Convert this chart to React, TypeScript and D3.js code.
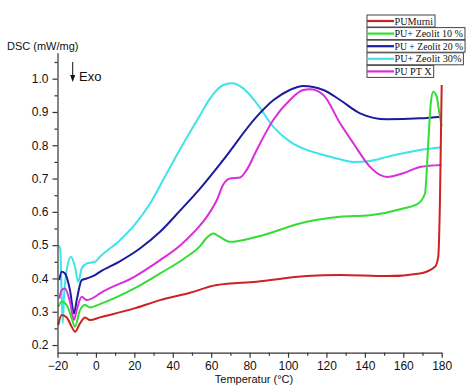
import { useEffect, useRef } from "react"
import * as d3 from "d3"

// Temperatur (°C) / DSC (mW/mg) Werte
const seriesNames = ["PUMurni", "PU+ Zeolit 10 %", "PU + Zeolit 20 %", "PU+ Zeolit 30%", "PU PT X"]
const seriesColors = ["#cc2222", "#33dd33", "#1c1ca0", "#3fe3ea", "#d92ed9"]

const puMurni: [number, number][] = [
  [-19.6, 0.26], [-17.8, 0.29], [-15.2, 0.283], [-12.6, 0.255], [-10.9, 0.24], [-8.3, 0.265],
  [-5.7, 0.283], [-3.1, 0.275], [2.1, 0.283], [20, 0.31], [33.4, 0.335], [49.0, 0.357], [62.9, 0.38],
  [83.7, 0.39], [109.7, 0.407], [127.1, 0.41], [151.4, 0.407], [168.7, 0.415], [176.5, 0.435],
  [178.2, 0.465], [179.1, 0.636], [180.0, 0.981],
]

const zeolit10: [number, number][] = [
  [-19.6, 0.315], [-17.8, 0.33], [-15.2, 0.32], [-12.6, 0.28], [-10.9, 0.255], [-8.3, 0.305],
  [-5.7, 0.32], [-3.1, 0.313], [2.1, 0.323], [20, 0.37], [33.4, 0.415], [46, 0.46], [54.2, 0.497], [57.7, 0.522],
  [61.1, 0.535], [64.5, 0.525], [69.8, 0.51], [83.7, 0.525], [109.7, 0.57], [127.1, 0.585],
  [142.7, 0.59], [160.0, 0.61], [167.8, 0.625], [171.3, 0.655], [173.0, 0.806], [174.3, 0.926],
  [175.6, 0.961], [177.4, 0.946], [178.8, 0.896], [180.0, 0.856],
]

const zeolit20: [number, number][] = [
  [-19.1, 0.395], [-17.8, 0.42], [-16.1, 0.415], [-13.5, 0.365], [-11.4, 0.295], [-10.0, 0.335],
  [-7.4, 0.395], [-4.8, 0.4], [-0.5, 0.41], [2.1, 0.42], [12, 0.45], [22.9, 0.49],
  [33.4, 0.54], [44, 0.605], [54.2, 0.67], [66.3, 0.756], [83.7, 0.886], [92.3, 0.935],
  [100.9, 0.966], [107.9, 0.978], [118.4, 0.966], [127.1, 0.936], [137.5, 0.896], [151.4, 0.878],
  [168.7, 0.881], [180.0, 0.886],
]

const zeolit30: [number, number][] = [
  [-19.8, 0.5], [-18.6, 0.49], [-17.3, 0.265], [-16.6, 0.345], [-15.2, 0.425], [-13.0, 0.465],
  [-10.9, 0.435], [-9.2, 0.39], [-7.4, 0.43], [-4.8, 0.445], [-0.5, 0.45], [2.1, 0.465],
  [12.5, 0.515], [20, 0.56], [28.2, 0.625], [36.8, 0.715], [45.5, 0.805], [54.2, 0.89],
  [59, 0.937], [66.3, 0.981], [70.7, 0.986], [76.7, 0.971], [83.7, 0.926], [92.3, 0.856],
  [101.0, 0.811], [109.7, 0.786], [118.4, 0.771], [127.1, 0.758], [134.0, 0.75], [142.7, 0.753],
  [151.4, 0.765], [168.7, 0.786], [180.0, 0.794],
]

const ptX: [number, number][] = [
  [-19.1, 0.34], [-17.8, 0.365], [-16.1, 0.37], [-13.5, 0.33], [-11.4, 0.275], [-10.0, 0.305],
  [-7.4, 0.345], [-4.8, 0.335], [-0.5, 0.345], [2.1, 0.355], [20, 0.405], [33.4, 0.455], [44, 0.5],
  [52, 0.545], [57.7, 0.585], [62.9, 0.635], [66.3, 0.682], [69.8, 0.7], [75.0, 0.703],
  [78.5, 0.726], [83.7, 0.786], [92.3, 0.876], [101.0, 0.936], [107.9, 0.966], [111.4, 0.968],
  [118.4, 0.951], [127.1, 0.866], [134.0, 0.806], [142.7, 0.735], [147.9, 0.711], [151.4, 0.705],
  [160.0, 0.716], [168.7, 0.735], [180.0, 0.741],
]

const allSeries = [puMurni, zeolit10, zeolit20, zeolit30, ptX]

const xMajorTicks = [-20, 0, 20, 40, 60, 80, 100, 120, 140, 160, 180]
const xMinorTicks = [-10, 10, 30, 50, 70, 90, 110, 130, 150, 170]
const yMajorTicks = [0.2, 0.3, 0.4, 0.5, 0.6, 0.7, 0.8, 0.9, 1.0]
const yMinorTicks = [0.25, 0.35, 0.45, 0.55, 0.65, 0.75, 0.85, 0.95, 1.05]

export default function App() {
  const svgRef = useRef<SVGSVGElement>(null)

  useEffect(() => {
    if (!svgRef.current) return
    const svg = d3.select(svgRef.current)
    svg.selectAll("*").remove()

    const x = d3.scaleLinear().domain([-20, 180]).range([57.5, 441.7])
    const y = d3.scaleLinear().domain([0.177, 1.078]).range([352.7, 52.7])
    const axisFont = "'Liberation Sans', Arial, sans-serif"

    // Kurven
    const line = d3
      .line<[number, number]>()
      .x((d) => x(d[0]))
      .y((d) => y(d[1]))
      .curve(d3.curveMonotoneX)

    // Reihenfolge: rot zuletzt oben
    const order = [3, 2, 4, 1, 0]
    order.forEach((i) => {
      svg
        .append("path")
        .attr("d", line(allSeries[i]))
        .attr("fill", "none")
        .attr("stroke", seriesColors[i])
        .attr("stroke-width", 2)
        .attr("stroke-linejoin", "round")
    })

    // X-Achse
    const xAxis = svg.append("g").attr("transform", "translate(0,352.7)")
    xAxis
      .call(d3.axisBottom(x).tickValues(xMajorTicks).tickSize(5).tickSizeOuter(0).tickPadding(4).tickFormat(d3.format("d")))
      .style("font-family", axisFont)
      .style("font-size", "12px")
    xAxis.selectAll("text").attr("fill", "#111")
    svg
      .append("g")
      .attr("transform", "translate(0,352.7)")
      .call(d3.axisBottom(x).tickValues(xMinorTicks).tickSize(3).tickSizeOuter(0).tickFormat(() => ""))
      .select(".domain")
      .remove()

    // Y-Achse
    const yAxis = svg.append("g").attr("transform", "translate(57.5,0)")
    yAxis
      .call(d3.axisLeft(y).tickValues(yMajorTicks).tickSize(5).tickSizeOuter(0).tickPadding(4).tickFormat(d3.format(".1f")))
      .style("font-family", axisFont)
      .style("font-size", "12px")
    yAxis.selectAll("text").attr("fill", "#111")
    svg
      .append("g")
      .attr("transform", "translate(57.5,0)")
      .call(d3.axisLeft(y).tickValues(yMinorTicks).tickSize(3).tickSizeOuter(0).tickFormat(() => ""))
      .select(".domain")
      .remove()
    svg.selectAll(".domain, .tick line").attr("stroke", "#333").attr("stroke-width", 1.2)

    // Achsentitel
    svg
      .append("text")
      .attr("x", 7)
      .attr("y", 50)
      .style("font-family", axisFont)
      .style("font-size", "11px")
      .attr("fill", "#111")
      .text("DSC (mW/mg)")
    svg
      .append("text")
      .attr("x", 254)
      .attr("y", 383)
      .attr("text-anchor", "middle")
      .style("font-family", axisFont)
      .style("font-size", "11px")
      .attr("fill", "#111")
      .text("Temperatur (°C)")

    // Exo Pfeil
    svg.append("line").attr("x1", 72.7).attr("x2", 72.7).attr("y1", 62).attr("y2", 76).attr("stroke", "#111").attr("stroke-width", 1)
    svg.append("path").attr("d", "M70.2,75 L75.2,75 L72.7,82 Z").attr("fill", "#111")
    svg
      .append("text")
      .attr("x", 79)
      .attr("y", 80.5)
      .style("font-family", axisFont)
      .style("font-size", "13px")
      .attr("fill", "#111")
      .text("Exo")

    // Legende
    const lx = 367
    const tx = lx + 27.5
    const baseSize = 10.2
    const maxText = 465 - tx - 2
    const legend = svg.append("g").style("font-family", "'Liberation Serif', 'Times New Roman', serif")
    seriesNames.forEach((name, i) => {
      const top = 15 + i * 12.6
      const g = legend.append("g")
      const rect = g.append("rect").attr("x", lx).attr("y", top).attr("height", 12).attr("fill", "white").attr("stroke", "#444").attr("stroke-width", 1)
      g.append("line")
        .attr("x1", lx)
        .attr("x2", tx - 0.5)
        .attr("y1", top + 6)
        .attr("y2", top + 6)
        .attr("stroke", seriesColors[i])
        .attr("stroke-width", 2.2)
      const t = g.append("text").attr("x", tx).attr("y", top + 9.6).attr("fill", "#111").style("font-size", `${baseSize}px`).text(name)
      let w = (t.node() as SVGTextElement).getComputedTextLength()
      if (w > maxText) {
        const s = (baseSize * maxText) / w
        t.style("font-size", `${s.toFixed(2)}px`)
        w = (t.node() as SVGTextElement).getComputedTextLength()
      }
      rect.attr("width", tx - lx + w + 2)
    })
  }, [])

  return (
    <div style={{ position: "absolute", left: 0, top: 0, width: 467, height: 385, background: "white" }}>
      <svg ref={svgRef} width={467} height={385} style={{ display: "block" }} />
    </div>
  )
}
